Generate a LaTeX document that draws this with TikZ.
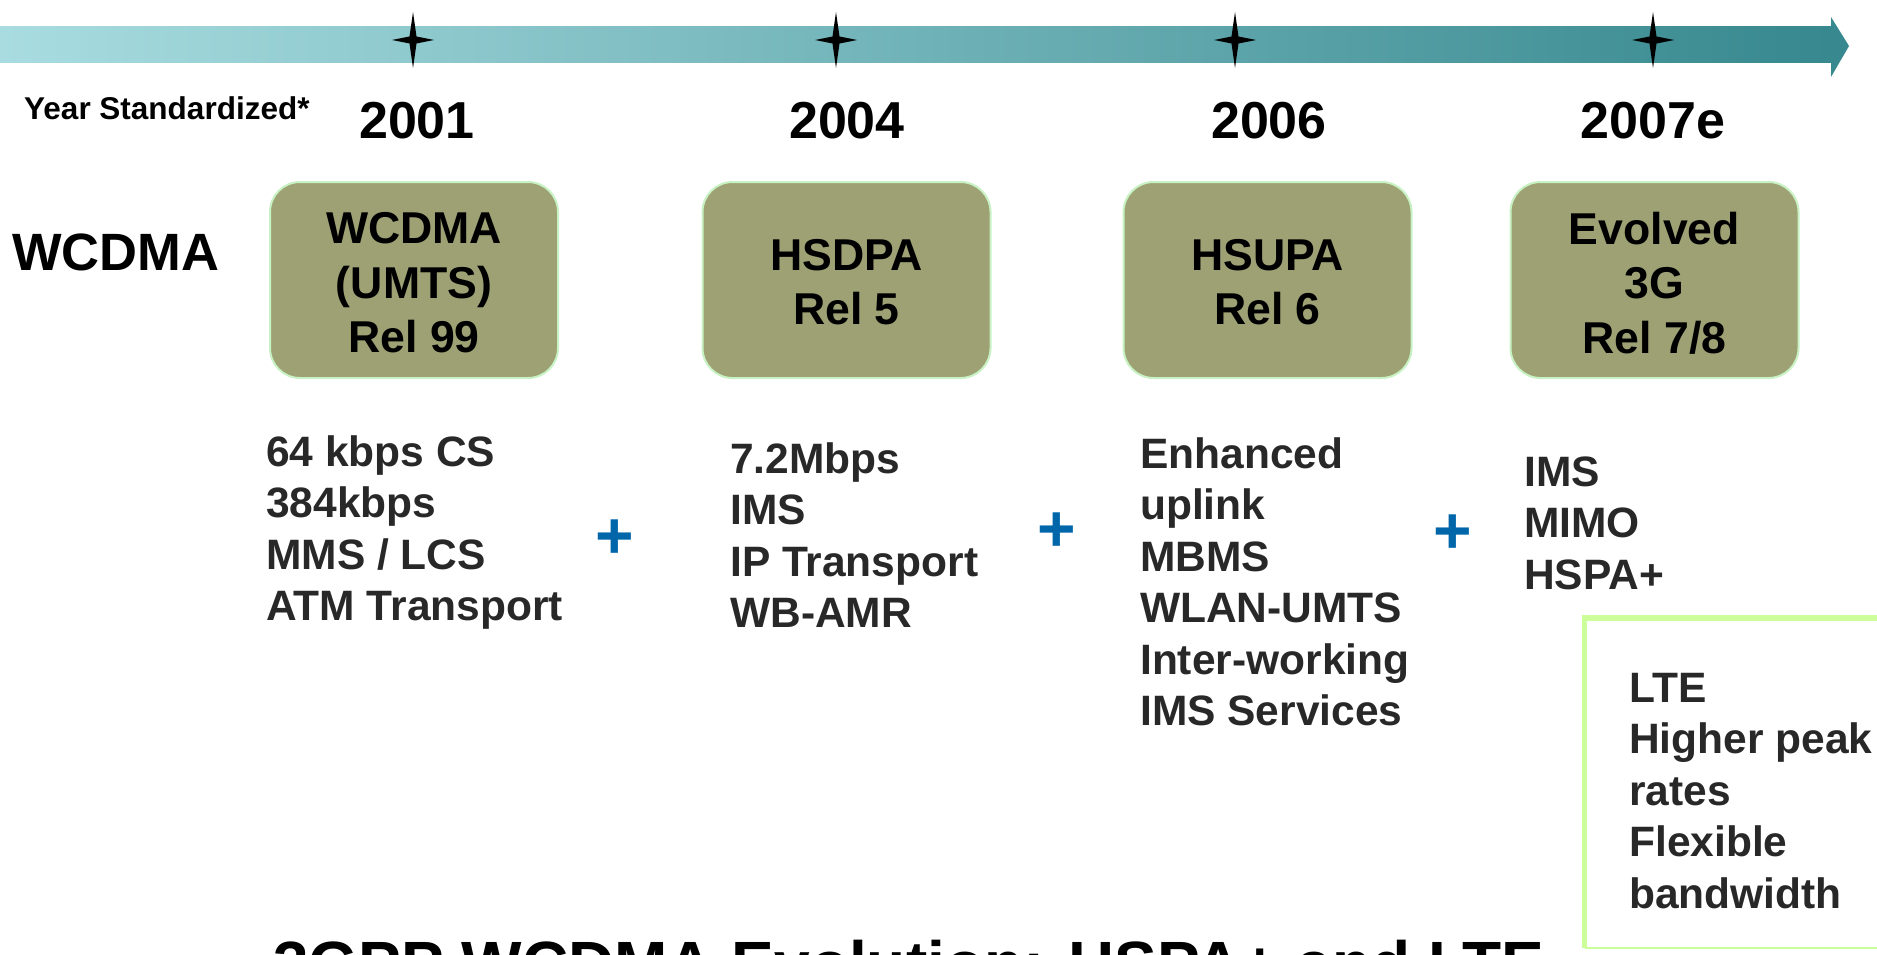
\documentclass[tikz,border=0pt]{standalone}
\usepackage{fontspec}
\setmainfont{Liberation Sans}
\definecolor{bandleft}{HTML}{A8DCE0}
\definecolor{bandright}{HTML}{37898F}
\definecolor{boxfill}{HTML}{9EA174}
\definecolor{boxedge}{HTML}{C8F2C4}
\definecolor{feattext}{HTML}{282828}
\definecolor{plusblue}{HTML}{0066AA}
\definecolor{lteedge}{HTML}{CCFF99}
\begin{document}
\begin{tikzpicture}[x=1pt,y={(0pt,-1pt)},
  yearlbl/.style={anchor=base, inner sep=0pt, font=\bfseries\fontsize{52}{60}\selectfont},
  relbox/.style={draw=boxedge, line width=2pt, fill=boxfill, rounded corners=30pt,
    minimum width=288pt, minimum height=196pt, inner sep=0pt},
  boxtext/.style={inner sep=0pt, align=center, font=\bfseries\fontsize{44.6}{54.5}\selectfont},
  feat/.style={anchor=base west, inner sep=0pt, align=left, text=feattext,
    font=\bfseries\fontsize{42.5}{51.5}\selectfont},
  plussign/.style={anchor=base, inner sep=0pt, text=plusblue, font=\bfseries\fontsize{66}{70}\selectfont},
  starshape/.style={fill=black}
]
\useasboundingbox (0,0) rectangle (1877,955);
\clip (0,0) rectangle (1877,955);

% timeline band and arrow head
\shade[left color=bandleft, right color=bandright] (0,27) rectangle (1832,63);
\fill[bandright] (1831,17) -- (1849,46) -- (1831,77) -- cycle;

% stars
\foreach \sx in {413,836,1235,1653}{
  \fill[starshape] (\sx,12) -- (\sx+3.5,36.5) -- (\sx+21,40) -- (\sx+3.5,43.5) -- (\sx,68)
     -- (\sx-3.5,43.5) -- (\sx-21,40) -- (\sx-3.5,36.5) -- cycle;
}

% labels
\node[anchor=base west, inner sep=0pt, font=\bfseries\fontsize{31.5}{36}\selectfont] (ys) at (24,120) {Year Standardized*};
\node[yearlbl] (y1) at (417,139) {2001};
\node[yearlbl] (y2) at (847,139) {2004};
\node[yearlbl] (y3) at (1269,139) {2006};
\node[yearlbl] (y4) at (1653,139) {2007e};

\node[anchor=base west, inner sep=0pt, font=\bfseries\fontsize{52.5}{60}\selectfont] (wc) at (12,270) {WCDMA};

% release boxes
\node[relbox] (b1) at (414,280) {};
\node[relbox] (b2) at (846.5,280) {};
\node[relbox] (b3) at (1267.5,280) {};
\node[relbox] (b4) at (1654.5,280) {};
\node[boxtext] (t1) at ([yshift=-3pt]b1.center) {WCDMA\\(UMTS)\\Rel 99};
\node[boxtext] (t2) at ([yshift=-2pt]b2.center) {HSDPA\\Rel 5};
\node[boxtext] (t3) at ([yshift=-2pt]b3.center) {HSUPA\\Rel 6};
\node[boxtext] (t4) at ([yshift=-3pt]b4.center) {Evolved\\3G\\Rel 7/8};

% feature lists (anchor = baseline of last line)
\node[feat] (f1) at (266,620.5) {64 kbps CS\\384kbps\\MMS / LCS\\ATM Transport};
\node[feat] (f2) at (730,627.5) {7.2Mbps\\IMS\\IP Transport\\WB-AMR};
\node[feat] (f3) at (1140,725.5) {Enhanced\\uplink\\MBMS\\WLAN-UMTS\\Inter-working\\IMS Services};
\node[feat] (f4) at (1524,589) {IMS\\MIMO\\HSPA+};

% plus signs
\node[plussign] (p1) at (615,558) {+};
\node[plussign] (p2) at (1057,551) {+};
\node[plussign] (p3) at (1453,553) {+};

% LTE box
\draw[lteedge, line width=5.5pt] (1584.5,948) -- (1584.5,618) -- (1890,618);
\draw[lteedge, line width=2pt] (1584.5,948) -- (1890,948);
\node[feat] (lte) at (1629,908) {LTE\\Higher peak\\rates\\Flexible\\bandwidth};

% title (cut by the lower edge)
\node[anchor=base west, inner sep=0pt, font=\bfseries\fontsize{64}{70}\selectfont] (title) at (273,986) {3GPP WCDMA Evolution: HSPA+ and LTE};
\end{tikzpicture}
\end{document}
